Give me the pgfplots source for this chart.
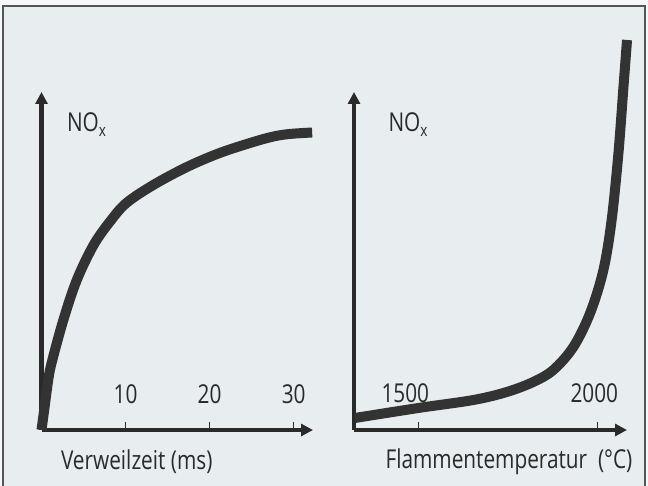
\documentclass[border=0pt]{standalone}
\usepackage{fontspec}
\setmainfont[FakeStretch=0.8]{Open Sans}
\usepackage{pgfplots}
\pgfplotsset{compat=1.18}
\usetikzlibrary{arrows.meta}
\definecolor{bg}{HTML}{E8EDF0}
\definecolor{ink}{HTML}{2A2A2A}
\definecolor{curve}{HTML}{333333}
\newcommand{\lblfont}{\fontsize{26bp}{30bp}\selectfont}

\pgfplotstableread{
x y
0 0
0.4 25
0.8 50
1.2 67
2.6 110
4.2 150
6.2 185
8.2 209
10.1 227
13.3 245
17.3 263
21.2 277
25.2 288
27.6 293.5
29.5 296
32.2 297.5
}\timedata

\pgfplotstableread{
x y
1323 12
1500 22
1654 30
1747 38
1821 48
1877 60
1933 83
1980 117
2017 160
2040 210
2059 277
2073 343
2083 390
}\tempdata

\pgfplotsset{
 panel/.style={
  scale only axis, height=338bp,
  axis x line=bottom, axis y line=left,
  axis line style={ink, line width=4bp, -{Triangle[length=12bp,width=12bp]}},
  ytick=\empty,
  tick align=inside, major tick length=8bp,
  every tick/.style={ink, line width=1.5bp},
  xticklabel style={anchor=base, yshift=27bp, font=\lblfont, text=ink},
  ymin=0, ymax=338, enlargelimits=false, clip=false,
  xlabel style={at={(axis description cs:0,0)}, anchor=base west, yshift=-39bp, font=\lblfont, text=ink},
  ylabel style={rotate=-90, at={(axis description cs:0,0)}, anchor=base west, yshift=298bp, font=\lblfont, text=ink},
  ylabel={NO\raisebox{-5bp}{\fontsize{17bp}{17bp}\selectfont x}},
 },
 curvestyle/.style={curve, line width=10bp, line cap=butt, smooth, tension=0.55, no markers},
}

\begin{document}
\begin{tikzpicture}
\fill[bg!45!white] (0bp,0bp) rectangle (648bp,486bp);
\fill[bg] (3bp,0bp) rectangle (645bp,480bp);
\draw[ink!80, line width=1.2bp] (3bp,-2bp) -- (3bp,480bp) -- (645bp,480bp) -- (645bp,-2bp);

\begin{axis}[panel, at={(41.5bp,56bp)}, anchor=south west, width=271.5bp,
  xmin=0, xmax=32.3, xtick={10,20,30}, xticklabels={10,20,30},
  xlabel={Verweilzeit (ms)},
  xlabel style={xshift=16bp}, ylabel style={xshift=22bp}]
\addplot[curvestyle] table[x=x,y=y] {\timedata};
\end{axis}

\begin{axis}[panel, at={(354bp,56bp)}, anchor=south west, width=273bp,
  xmin=1320.4, xmax=2082.9, xtick={1500,2000},
  xticklabels={{1500\rule{26bp}{0pt}},{2000\rule{6bp}{0pt}}},
  xlabel={Flammentemperatur\ \ (°C)},
  xlabel style={xshift=28bp}, ylabel style={xshift=31bp}]
\addplot[curvestyle] table[x=x,y=y] {\tempdata};
\end{axis}

\pgfresetboundingbox
\useasboundingbox (0bp,0bp) rectangle (648bp,486bp);
\end{tikzpicture}
\end{document}
